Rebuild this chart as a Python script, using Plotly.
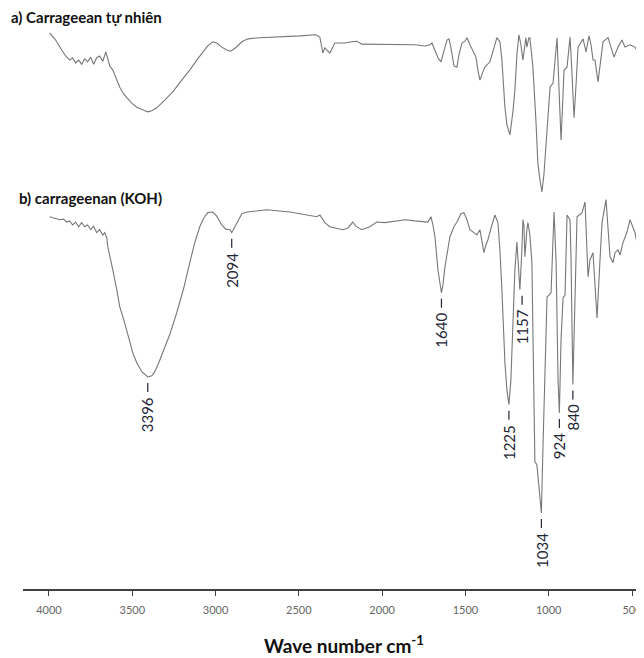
import numpy as np
import plotly.graph_objects as go

# ---- data (wavenumber in cm-1, transmittance in arbitrary %) ----
wn_a = [3996, 3960, 3924, 3900, 3876, 3858, 3840, 3822, 3804, 3786, 3768, 3750, 3732, 3714, 3696, 3677,
        3659, 3647, 3635, 3617, 3593, 3575, 3551, 3533, 3503, 3473, 3437, 3407, 3383, 3353, 3305, 3257,
        3203, 3155, 3113, 3077, 3047, 3017, 2993, 2963, 2933, 2909, 2879, 2842, 2806, 2734, 2614, 2494,
        2398, 2374, 2356, 2344, 2332, 2314, 2284, 2224, 2182, 2152, 2122, 2074, 2032, 1984, 1923, 1863,
        1803, 1743, 1713, 1701, 1677, 1665, 1647, 1629, 1611, 1599, 1587, 1569, 1551, 1539, 1521, 1503,
        1491, 1473, 1455, 1437, 1425, 1413, 1395, 1383, 1353, 1329, 1311, 1293, 1281, 1263, 1251, 1233,
        1215, 1203, 1191, 1179, 1167, 1155, 1137, 1131, 1119, 1113, 1095, 1077, 1065, 1053, 1041, 1029,
        1010, 992, 974, 962, 950, 938, 926, 914, 908, 890, 872, 860, 848, 836, 824, 794,
        776, 758, 746, 734, 722, 704, 686, 674, 644, 626, 608, 584, 560, 542, 512, 482,
        464, 452, 434, 428]
t_a = [94.4, 93.2, 91.5, 90.5, 89.8, 90.2, 89.3, 89.8, 89.1, 90.0, 89.5, 90.3, 89.1, 90.2, 90.5, 89.6,
       91.2, 89.8, 88.8, 88.1, 86.4, 85.2, 84.0, 83.4, 82.5, 81.8, 81.3, 81.0, 81.2, 81.7, 83.0, 84.4,
       86.4, 88.1, 89.8, 91.2, 92.2, 92.9, 92.7, 92.0, 91.5, 91.3, 91.9, 92.9, 93.4, 93.6, 93.7, 93.9,
       94.1, 93.7, 91.0, 91.9, 91.5, 91.0, 92.7, 92.7, 92.9, 93.0, 92.5, 92.5, 92.4, 92.5, 92.4, 92.4,
       92.4, 92.2, 92.4, 92.7, 91.2, 90.2, 89.5, 91.5, 93.2, 93.4, 91.9, 88.8, 88.6, 90.7, 92.7, 93.0,
       93.6, 92.4, 91.2, 90.3, 88.1, 86.4, 87.8, 88.6, 89.5, 91.9, 93.6, 92.9, 89.8, 81.8, 78.8, 77.1,
       81.0, 84.7, 90.7, 94.1, 92.4, 89.8, 93.6, 92.0, 93.6, 93.6, 88.6, 79.6, 72.3, 69.5, 67.4, 70.3,
       78.4, 85.2, 85.9, 89.8, 93.6, 84.7, 76.2, 83.9, 88.1, 88.6, 93.7, 87.3, 80.0, 85.6, 92.0, 93.4,
       91.2, 93.9, 92.4, 89.8, 89.8, 86.1, 89.8, 92.9, 93.6, 91.9, 90.3, 92.0, 93.2, 92.0, 92.4, 92.0,
       91.2, 89.8, 88.6, 88.1]

wn_b = [3996, 3966, 3936, 3912, 3894, 3876, 3858, 3840, 3822, 3804, 3786, 3768, 3750, 3732, 3714, 3696,
        3677, 3665, 3653, 3647, 3635, 3617, 3593, 3575, 3551, 3533, 3515, 3497, 3473, 3443, 3407, 3383,
        3365, 3341, 3317, 3275, 3233, 3191, 3155, 3125, 3095, 3071, 3047, 3017, 2993, 2963, 2939, 2914,
        2903, 2891, 2872, 2842, 2812, 2752, 2692, 2554, 2392, 2374, 2356, 2344, 2314, 2284, 2236, 2206,
        2176, 2158, 2122, 2074, 2032, 1984, 1923, 1863, 1803, 1743, 1725, 1707, 1695, 1683, 1665, 1644,
        1635, 1623, 1593, 1569, 1551, 1527, 1509, 1491, 1473, 1449, 1431, 1413, 1401, 1389, 1377, 1365,
        1341, 1323, 1305, 1293, 1281, 1263, 1251, 1239, 1227, 1215, 1203, 1191, 1179, 1173, 1161, 1155,
        1149, 1143, 1131, 1125, 1113, 1101, 1095, 1089, 1083, 1071, 1059, 1044, 1035, 1023, 1010, 998,
        986, 968, 956, 944, 936, 926, 914, 902, 890, 872, 866, 855, 842, 830, 800, 782,
        764, 752, 734, 710, 692, 680, 656, 632, 614, 602, 584, 572, 554, 530, 512, 482,
        452, 440, 428]
t_b = [63.2, 63.0, 62.7, 62.8, 62.3, 62.5, 61.8, 62.3, 61.5, 62.2, 61.5, 61.8, 61.0, 61.6, 60.5, 61.0,
       60.1, 60.5, 59.6, 58.1, 56.7, 54.2, 50.8, 47.9, 45.7, 44.0, 42.0, 40.1, 38.4, 36.9, 36.0, 36.2,
       36.9, 38.4, 40.1, 43.2, 46.9, 51.1, 55.4, 58.8, 61.5, 63.0, 63.9, 64.0, 63.3, 61.8, 61.1, 61.0,
       60.5, 61.1, 62.2, 63.7, 64.0, 64.2, 64.4, 64.0, 63.2, 63.5, 62.7, 62.2, 61.5, 61.3, 61.0, 61.3,
       62.3, 61.6, 61.0, 61.5, 62.3, 62.2, 62.5, 62.7, 62.5, 62.3, 62.3, 63.2, 61.8, 59.8, 54.2, 50.3,
       51.6, 54.7, 59.8, 61.5, 62.3, 63.7, 63.9, 62.7, 61.0, 60.5, 60.1, 61.0, 59.3, 57.1, 58.4, 59.3,
       61.8, 63.5, 62.2, 57.6, 50.8, 38.4, 33.8, 31.3, 35.5, 44.0, 54.2, 58.9, 54.2, 50.8, 57.6, 62.7,
       61.8, 56.4, 61.0, 62.2, 60.1, 55.4, 44.0, 27.0, 21.6, 21.1, 16.8, 12.9, 23.6, 35.5, 49.6, 49.9,
       50.3, 64.0, 55.9, 35.5, 29.9, 42.3, 49.4, 49.9, 63.5, 62.7, 55.9, 34.7, 49.1, 63.2, 63.9, 65.7,
       53.0, 55.9, 57.1, 46.0, 55.9, 62.2, 66.1, 56.4, 55.4, 57.1, 57.6, 56.7, 58.8, 60.6, 62.7, 60.5,
       55.9, 55.0, 53.0]

series_names = ["a) Carrageean tự nhiên", "b) carrageenan (KOH)"]

peak_text = ["3396", "2094", "1640", "1225", "1157", "1034", "924", "840"]
peak_pos = [3407, 2903, 1644, 1239, 1160, 1044, 936, 855]

tick_vals = [4000, 3500, 3000, 2500, 2000, 1500, 1000, 500]
x_title = "Wave number cm<sup>-1</sup>"

# ---- figure ----
LINE = "#777777"
LABEL = "#1e2535"
FONT = "Lato"

fig = go.Figure()
fig.add_trace(go.Scatter(x=wn_a, y=t_a, mode="lines", line=dict(color=LINE, width=1.1),
                         name=series_names[0], hoverinfo="skip"))
fig.add_trace(go.Scatter(x=wn_b, y=t_b, mode="lines", line=dict(color=LINE, width=1.1),
                         name=series_names[1], hoverinfo="skip"))

wb = np.array(wn_b, dtype=float)
tb = np.array(t_b, dtype=float)
for txt, pos in zip(peak_text, peak_pos):
    win = np.abs(wb - pos) <= 20
    ymin = float(tb[win].min())
    fig.add_shape(type="line", xref="x", yref="y", x0=pos, x1=pos,
                  ysizemode="pixel", yanchor=ymin, y0=-6, y1=-15,
                  line=dict(color=LABEL, width=1.2))
    fig.add_annotation(x=pos, y=ymin, xref="x", yref="y", text=txt, showarrow=False,
                       textangle=-90, xanchor="center", yanchor="top", yshift=-18,
                       font=dict(family=FONT, size=15, color=LABEL))

fig.add_annotation(x=-0.0225, y=0.9845, xref="paper", yref="paper", text="<b>" + series_names[0] + "</b>",
                   showarrow=False, xanchor="left", yanchor="middle",
                   font=dict(family=FONT, size=15, color="#111111"))
fig.add_annotation(x=-0.0097, y=0.673, xref="paper", yref="paper", text="<b>" + series_names[1] + "</b>",
                   showarrow=False, xanchor="left", yanchor="middle",
                   font=dict(family=FONT, size=15, color="#111111"))
fig.add_annotation(x=0.517, y=-0.096, xref="paper", yref="paper", text="<b>" + x_title + "</b>",
                   showarrow=False, xanchor="center", yanchor="middle",
                   font=dict(family=FONT, size=19, color="#111111"))

fig.update_layout(
    width=636, height=650,
    margin=dict(l=15, r=0, t=0, b=69),
    paper_bgcolor="white", plot_bgcolor="white",
    showlegend=False,
    xaxis=dict(range=[4156, 428], tickvals=tick_vals, ticktext=[str(v) for v in tick_vals],
               showgrid=False, zeroline=False, showline=True, linecolor="#404040", linewidth=1.5,
               ticks="outside", ticklen=5, tickwidth=1.3, tickcolor="#404040",
               ticklabelstandoff=5,
               tickfont=dict(family=FONT, size=11, color="#666666")),
    yaxis=dict(range=[0, 98.64], visible=False, showgrid=False, zeroline=False),
)

fig.write_html("out.html")
